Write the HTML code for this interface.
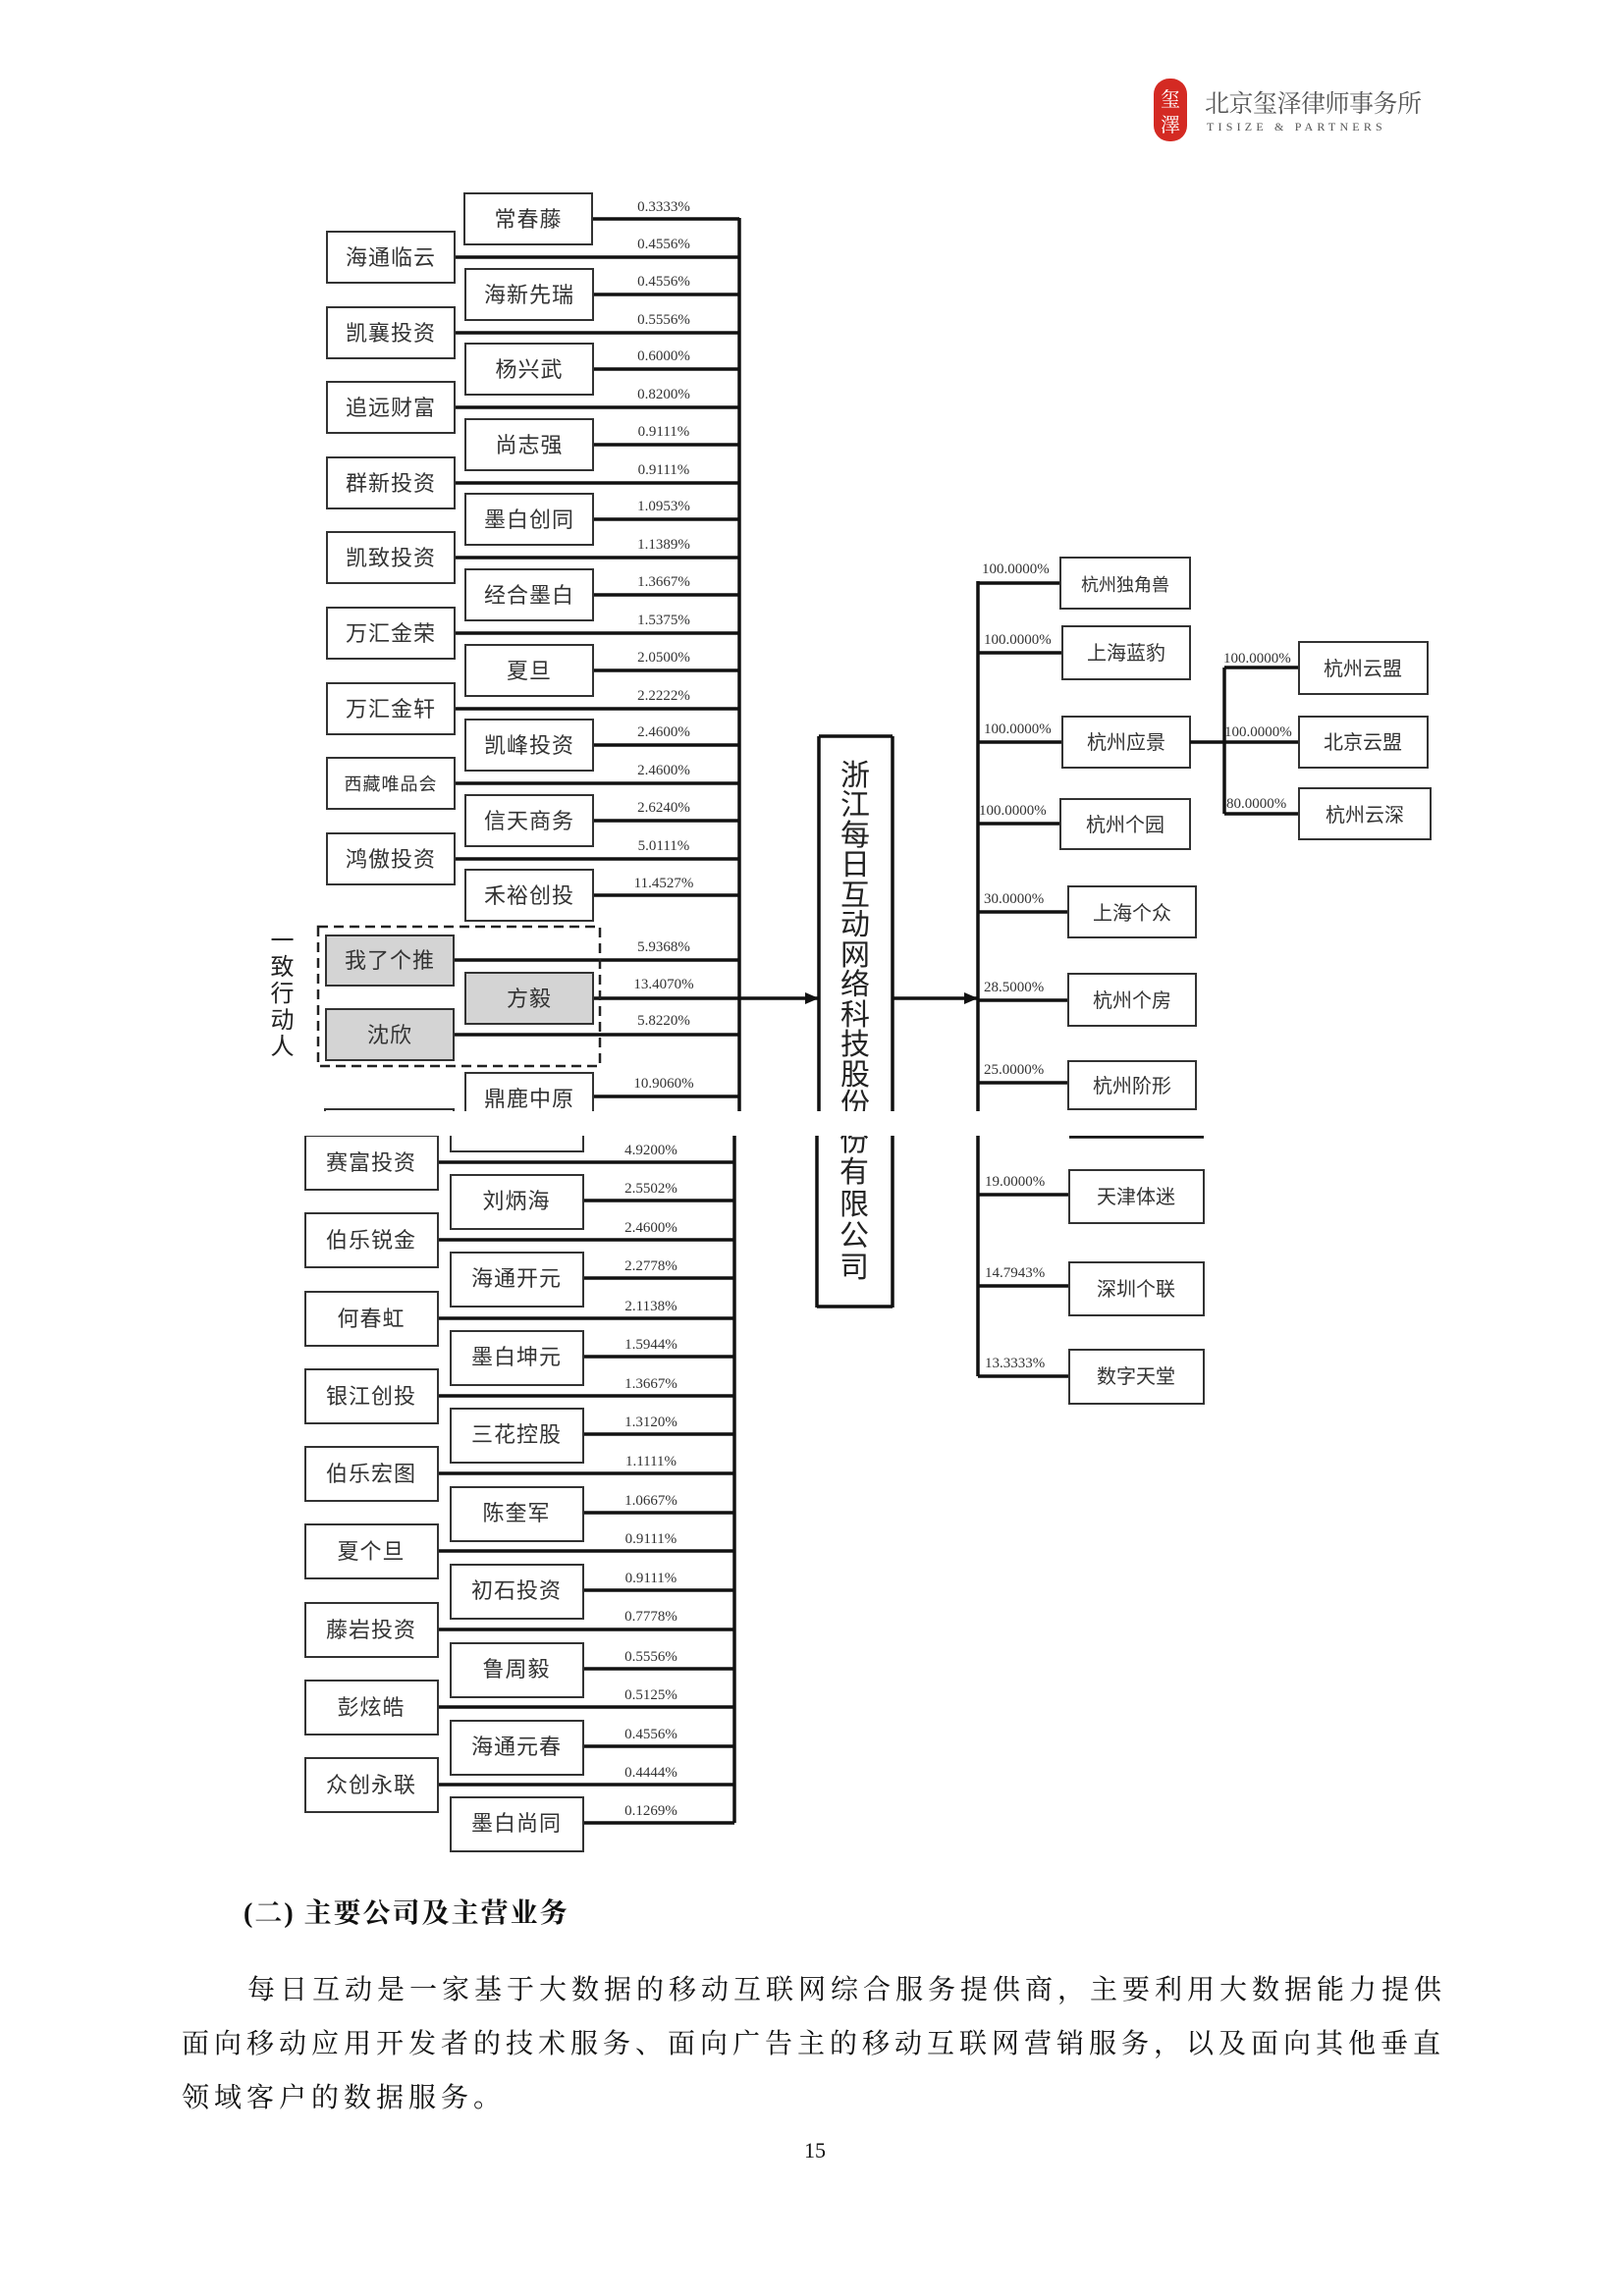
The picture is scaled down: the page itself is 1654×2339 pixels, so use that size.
<!DOCTYPE html>
<html><head><meta charset="utf-8"><style>
html,body{margin:0;padding:0;background:#fff}
svg{display:block}
.b{fill:#fff;stroke:#333;stroke-width:2}
.g{fill:#d4d4d4;stroke:#333;stroke-width:2}
.l{stroke:#111;stroke-width:3.5;fill:none}
.t{font-family:"Liberation Sans","Noto Sans CJK SC",sans-serif;font-size:22px;fill:#333;text-anchor:middle;letter-spacing:1px}
.s{font-family:"Liberation Sans","Noto Sans CJK SC",sans-serif;font-size:20px;fill:#333;text-anchor:middle}
.p{font-family:"Liberation Serif",serif;font-size:15px;fill:#333;text-anchor:middle}
.q{font-family:"Liberation Serif",serif;font-size:15px;fill:#333}
.c{font-family:"Liberation Sans","Noto Sans CJK SC",sans-serif;font-size:30px;fill:#222;text-anchor:middle}
.body{font-family:"Liberation Serif","Noto Serif CJK SC",serif;font-size:28px;fill:#111;letter-spacing:5px}
</style></head><body>
<svg width="1654" height="2339" viewBox="0 0 1654 2339" xmlns="http://www.w3.org/2000/svg">
<defs>
<clipPath id="top"><rect x="0" y="0" width="1654" height="1132"/></clipPath>
<clipPath id="bot"><rect x="0" y="1157" width="1654" height="1200"/></clipPath>
<marker id="ar" markerWidth="14" markerHeight="12" refX="13" refY="6" orient="auto" markerUnits="userSpaceOnUse"><path d="M0,0 L14,6 L0,12 z" fill="#111"/></marker>
</defs>

<!-- header -->
<rect x="1175" y="80" width="34" height="64" rx="16" fill="#d42a23"/>
<text x="1192" y="108" font-family="Noto Serif CJK SC,serif" font-size="20" fill="#fff" text-anchor="middle">玺</text>
<text x="1192" y="134" font-family="Noto Serif CJK SC,serif" font-size="20" fill="#fff" text-anchor="middle">澤</text>
<text x="1227" y="114" font-family="Liberation Serif,Noto Serif CJK SC,serif" font-size="25" fill="#555" letter-spacing="-0.5">北京玺泽律师事务所</text>
<text x="1229" y="133" font-family="Liberation Serif,serif" font-size="12" fill="#555" letter-spacing="4.2">TISIZE &amp; PARTNERS</text>

<!-- TOP SECTION -->
<g clip-path="url(#top)">
<line class="l" x1="753" y1="222" x2="753" y2="1140"/>
<g class="l">
<line x1="604" y1="223" x2="753" y2="223"/><line x1="604" y1="300" x2="753" y2="300"/>
<line x1="604" y1="376" x2="753" y2="376"/><line x1="604" y1="453" x2="753" y2="453"/>
<line x1="604" y1="529" x2="753" y2="529"/><line x1="604" y1="606" x2="753" y2="606"/>
<line x1="604" y1="683" x2="753" y2="683"/><line x1="604" y1="759" x2="753" y2="759"/>
<line x1="604" y1="836" x2="753" y2="836"/><line x1="604" y1="912" x2="753" y2="912"/>
<line x1="604" y1="1117" x2="753" y2="1117"/>
<line x1="463" y1="262" x2="753" y2="262"/><line x1="463" y1="339" x2="753" y2="339"/>
<line x1="463" y1="415" x2="753" y2="415"/><line x1="463" y1="492" x2="753" y2="492"/>
<line x1="463" y1="568" x2="753" y2="568"/><line x1="463" y1="645" x2="753" y2="645"/>
<line x1="463" y1="722" x2="753" y2="722"/><line x1="463" y1="798" x2="753" y2="798"/>
<line x1="463" y1="875" x2="753" y2="875"/>
<line x1="462" y1="978" x2="753" y2="978"/><line x1="462" y1="1054" x2="753" y2="1054"/>
<line x1="604" y1="1017" x2="753" y2="1017"/>
</g>
<rect class="b" x="473" y="197" width="130" height="52"/><text class="t" x="538" y="231">常春藤</text>
<rect class="b" x="474" y="274" width="130" height="52"/><text class="t" x="539" y="308">海新先瑞</text>
<rect class="b" x="474" y="350" width="130" height="52"/><text class="t" x="539" y="384">杨兴武</text>
<rect class="b" x="474" y="427" width="130" height="52"/><text class="t" x="539" y="461">尚志强</text>
<rect class="b" x="474" y="503" width="130" height="52"/><text class="t" x="539" y="537">墨白创同</text>
<rect class="b" x="474" y="580" width="130" height="52"/><text class="t" x="539" y="614">经合墨白</text>
<rect class="b" x="474" y="657" width="130" height="52"/><text class="t" x="539" y="691">夏旦</text>
<rect class="b" x="474" y="733" width="130" height="52"/><text class="t" x="539" y="767">凯峰投资</text>
<rect class="b" x="474" y="810" width="130" height="52"/><text class="t" x="539" y="844">信天商务</text>
<rect class="b" x="474" y="886" width="130" height="52"/><text class="t" x="539" y="920">禾裕创投</text>
<rect class="b" x="474" y="1093" width="130" height="52"/><text class="t" x="539" y="1127">鼎鹿中原</text>
<rect class="b" x="333" y="236" width="130" height="52"/><text class="t" x="398" y="270">海通临云</text>
<rect class="b" x="333" y="313" width="130" height="52"/><text class="t" x="398" y="347">凯襄投资</text>
<rect class="b" x="333" y="389" width="130" height="52"/><text class="t" x="398" y="423">追远财富</text>
<rect class="b" x="333" y="466" width="130" height="52"/><text class="t" x="398" y="500">群新投资</text>
<rect class="b" x="333" y="542" width="130" height="52"/><text class="t" x="398" y="576">凯致投资</text>
<rect class="b" x="333" y="619" width="130" height="52"/><text class="t" x="398" y="653">万汇金荣</text>
<rect class="b" x="333" y="696" width="130" height="52"/><text class="t" x="398" y="730">万汇金轩</text>
<rect class="b" x="333" y="772" width="130" height="52"/><text style="font-size:18px" class="t" x="398" y="805">西藏唯品会</text>
<rect class="b" x="333" y="849" width="130" height="52"/><text class="t" x="398" y="883">鸿傲投资</text>
<rect class="b" x="331" y="1130" width="131" height="52"/>
<rect x="324" y="944" width="287" height="142" fill="none" stroke="#222" stroke-width="2.5" stroke-dasharray="10,6"/>
<rect class="g" x="332" y="953" width="130" height="51"/><text class="t" x="397" y="986">我了个推</text>
<rect class="g" x="332" y="1028" width="130" height="52"/><text class="t" x="397" y="1062">沈欣</text>
<rect class="g" x="474" y="991" width="130" height="52"/><text class="t" x="539" y="1025">方毅</text>
<g class="p">
<text x="676" y="215">0.3333%</text><text x="676" y="253">0.4556%</text>
<text x="676" y="291">0.4556%</text><text x="676" y="330">0.5556%</text>
<text x="676" y="367">0.6000%</text><text x="676" y="406">0.8200%</text>
<text x="676" y="444">0.9111%</text><text x="676" y="483">0.9111%</text>
<text x="676" y="520">1.0953%</text><text x="676" y="559">1.1389%</text>
<text x="676" y="597">1.3667%</text><text x="676" y="636">1.5375%</text>
<text x="676" y="674">2.0500%</text><text x="676" y="713">2.2222%</text>
<text x="676" y="750">2.4600%</text><text x="676" y="789">2.4600%</text>
<text x="676" y="827">2.6240%</text><text x="676" y="866">5.0111%</text>
<text x="676" y="904">11.4527%</text><text x="676" y="969">5.9368%</text>
<text x="676" y="1007">13.4070%</text><text x="676" y="1044">5.8220%</text>
<text x="676" y="1108">10.9060%</text><text x="676" y="1142">4.9200%</text>
</g>
<line class="l" x1="834" y1="750" x2="834" y2="1140"/>
<line class="l" x1="909" y1="750" x2="909" y2="1140"/>
<line class="l" x1="834" y1="750" x2="909" y2="750"/>
<g class="c">
<text x="871" y="800">浙</text><text x="871" y="830">江</text><text x="871" y="861">每</text><text x="871" y="891">日</text>
<text x="871" y="922">互</text><text x="871" y="952">动</text><text x="871" y="983">网</text><text x="871" y="1013">络</text>
<text x="871" y="1044">科</text><text x="871" y="1074">技</text><text x="871" y="1105">股</text><text x="871" y="1135">份</text>
</g>
<line class="l" x1="753" y1="1017" x2="833" y2="1017" marker-end="url(#ar)"/>
<line class="l" x1="909" y1="1017" x2="995" y2="1017" marker-end="url(#ar)"/>
<line class="l" x1="996" y1="592" x2="996" y2="1140"/>
<g class="l">
<line x1="996" y1="594" x2="1080" y2="594"/><line x1="996" y1="665" x2="1082" y2="665"/>
<line x1="996" y1="756" x2="1082" y2="756"/><line x1="996" y1="839" x2="1080" y2="839"/>
<line x1="996" y1="929" x2="1088" y2="929"/><line x1="996" y1="1019" x2="1088" y2="1019"/>
<line x1="996" y1="1103" x2="1088" y2="1103"/>
</g>
<rect class="b" x="1080" y="568" width="132" height="52"/><text class="s" x="1146" y="602" style="font-size:18px">杭州独角兽</text>
<rect class="b" x="1082" y="638" width="130" height="54"/><text class="s" x="1147" y="672">上海蓝豹</text>
<rect class="b" x="1082" y="730" width="130" height="52"/><text class="s" x="1147" y="763">杭州应景</text>
<rect class="b" x="1080" y="814" width="132" height="51"/><text class="s" x="1146" y="847">杭州个园</text>
<rect class="b" x="1088" y="903" width="130" height="52"/><text class="s" x="1153" y="937">上海个众</text>
<rect class="b" x="1088" y="992" width="130" height="53"/><text class="s" x="1153" y="1026">杭州个房</text>
<rect class="b" x="1088" y="1081" width="130" height="49"/><text class="s" x="1153" y="1113">杭州阶形</text>
<g class="q">
<text x="1000" y="584">100.0000%</text><text x="1002" y="656">100.0000%</text>
<text x="1002" y="747">100.0000%</text><text x="997" y="830">100.0000%</text>
<text x="1002" y="920">30.0000%</text><text x="1002" y="1010">28.5000%</text>
<text x="1002" y="1094">25.0000%</text>
</g>
<g class="l">
<line x1="1212" y1="756" x2="1323" y2="756"/>
<line x1="1247" y1="680" x2="1247" y2="829"/>
<line x1="1247" y1="680" x2="1323" y2="680"/>
<line x1="1247" y1="829" x2="1323" y2="829"/>
</g>
<rect class="b" x="1323" y="654" width="131" height="53"/><text class="s" x="1388" y="688">杭州云盟</text>
<rect class="b" x="1323" y="730" width="131" height="52"/><text class="s" x="1388" y="763">北京云盟</text>
<rect class="b" x="1323" y="803" width="134" height="52"/><text class="s" x="1390" y="837">杭州云深</text>
<g class="q">
<text x="1246" y="675">100.0000%</text><text x="1247" y="750">100.0000%</text><text x="1249" y="823">80.0000%</text>
</g>
</g>

<g class="t" style="font-size:24px;fill:#222">
<text x="288" y="966">一</text><text x="288" y="993">致</text><text x="288" y="1020">行</text><text x="288" y="1047">动</text><text x="288" y="1074">人</text>
</g>

<!-- BOTTOM SECTION -->
<g clip-path="url(#bot)">
<line class="l" x1="748" y1="1150" x2="748" y2="1857"/>
<g class="l">
<line x1="446" y1="1184" x2="748" y2="1184"/><line x1="446" y1="1263" x2="748" y2="1263"/>
<line x1="446" y1="1343" x2="748" y2="1343"/><line x1="446" y1="1422" x2="748" y2="1422"/>
<line x1="446" y1="1501" x2="748" y2="1501"/><line x1="446" y1="1580" x2="748" y2="1580"/>
<line x1="446" y1="1660" x2="748" y2="1660"/><line x1="446" y1="1739" x2="748" y2="1739"/>
<line x1="446" y1="1818" x2="748" y2="1818"/>
<line x1="594" y1="1223" x2="748" y2="1223"/><line x1="594" y1="1302" x2="748" y2="1302"/>
<line x1="594" y1="1382" x2="748" y2="1382"/><line x1="594" y1="1461" x2="748" y2="1461"/>
<line x1="594" y1="1541" x2="748" y2="1541"/><line x1="594" y1="1620" x2="748" y2="1620"/>
<line x1="594" y1="1700" x2="748" y2="1700"/><line x1="594" y1="1779" x2="748" y2="1779"/>
<line x1="594" y1="1857" x2="748" y2="1857"/>
</g>
<rect class="b" x="459" y="1120" width="135" height="53"/>
<rect class="b" x="311" y="1157" width="135" height="55"/><text class="t" x="378" y="1192">赛富投资</text>
<rect class="b" x="311" y="1236" width="135" height="55"/><text class="t" x="378" y="1271">伯乐锐金</text>
<rect class="b" x="311" y="1316" width="135" height="55"/><text class="t" x="378" y="1351">何春虹</text>
<rect class="b" x="311" y="1395" width="135" height="55"/><text class="t" x="378" y="1430">银江创投</text>
<rect class="b" x="311" y="1474" width="135" height="55"/><text class="t" x="378" y="1509">伯乐宏图</text>
<rect class="b" x="311" y="1553" width="135" height="55"/><text class="t" x="378" y="1588">夏个旦</text>
<rect class="b" x="311" y="1633" width="135" height="55"/><text class="t" x="378" y="1668">藤岩投资</text>
<rect class="b" x="311" y="1712" width="135" height="55"/><text class="t" x="378" y="1747">彭炫皓</text>
<rect class="b" x="311" y="1791" width="135" height="55"/><text class="t" x="378" y="1826">众创永联</text>
<rect class="b" x="459" y="1197" width="135" height="55"/><text class="t" x="526" y="1231">刘炳海</text>
<rect class="b" x="459" y="1276" width="135" height="55"/><text class="t" x="526" y="1310">海通开元</text>
<rect class="b" x="459" y="1356" width="135" height="55"/><text class="t" x="526" y="1390">墨白坤元</text>
<rect class="b" x="459" y="1435" width="135" height="55"/><text class="t" x="526" y="1469">三花控股</text>
<rect class="b" x="459" y="1515" width="135" height="55"/><text class="t" x="526" y="1549">陈奎军</text>
<rect class="b" x="459" y="1594" width="135" height="55"/><text class="t" x="526" y="1628">初石投资</text>
<rect class="b" x="459" y="1674" width="135" height="55"/><text class="t" x="526" y="1708">鲁周毅</text>
<rect class="b" x="459" y="1753" width="135" height="55"/><text class="t" x="526" y="1787">海通元春</text>
<rect class="b" x="459" y="1831" width="135" height="55"/><text class="t" x="526" y="1865">墨白尚同</text>
<g class="p">
<text x="663" y="1176">4.9200%</text><text x="663" y="1215">2.5502%</text>
<text x="663" y="1255">2.4600%</text><text x="663" y="1294">2.2778%</text>
<text x="663" y="1335">2.1138%</text><text x="663" y="1374">1.5944%</text>
<text x="663" y="1414">1.3667%</text><text x="663" y="1453">1.3120%</text>
<text x="663" y="1493">1.1111%</text><text x="663" y="1533">1.0667%</text>
<text x="663" y="1572">0.9111%</text><text x="663" y="1612">0.9111%</text>
<text x="663" y="1651">0.7778%</text><text x="663" y="1692">0.5556%</text>
<text x="663" y="1731">0.5125%</text><text x="663" y="1771">0.4556%</text>
<text x="663" y="1810">0.4444%</text><text x="663" y="1849">0.1269%</text>
</g>
<line class="l" x1="832" y1="1150" x2="832" y2="1332"/>
<line class="l" x1="909" y1="1150" x2="909" y2="1332"/>
<line class="l" x1="832" y1="1331" x2="909" y2="1331"/>
<g class="c">
<text x="870" y="1172">份</text><text x="870" y="1204">有</text><text x="870" y="1237">限</text><text x="870" y="1269">公</text><text x="870" y="1301">司</text>
</g>
<line class="l" x1="996" y1="1150" x2="996" y2="1402"/>
<line class="l" x1="1089" y1="1158" x2="1226" y2="1158"/>
<g class="l">
<line x1="996" y1="1217" x2="1089" y2="1217"/><line x1="996" y1="1310" x2="1089" y2="1310"/>
<line x1="996" y1="1402" x2="1089" y2="1402"/>
</g>
<rect class="b" x="1089" y="1192" width="137" height="54"/><text class="s" x="1157" y="1226">天津体迷</text>
<rect class="b" x="1089" y="1286" width="137" height="54"/><text class="s" x="1157" y="1320">深圳个联</text>
<rect class="b" x="1089" y="1375" width="137" height="55"/><text class="s" x="1157" y="1409">数字天堂</text>
<g class="q">
<text x="1003" y="1208">19.0000%</text><text x="1003" y="1301">14.7943%</text><text x="1003" y="1393">13.3333%</text>
</g>
</g>

<text x="248" y="1958" font-family="Liberation Serif,Noto Serif CJK SC,serif" font-size="28" font-weight="bold" fill="#111" letter-spacing="2">(二) 主要公司及主营业务</text>
<text class="body" x="252" y="2036">每日互动是一家基于大数据的移动互联网综合服务提供商，主要利用大数据能力提供</text>
<text class="body" x="185" y="2091">面向移动应用开发者的技术服务、面向广告主的移动互联网营销服务，以及面向其他垂直</text>
<text class="body" x="185" y="2146">领域客户的数据服务。</text>
<text x="830" y="2198" font-family="Liberation Serif,serif" font-size="22" fill="#111" text-anchor="middle">15</text>
</svg>
</body></html>
